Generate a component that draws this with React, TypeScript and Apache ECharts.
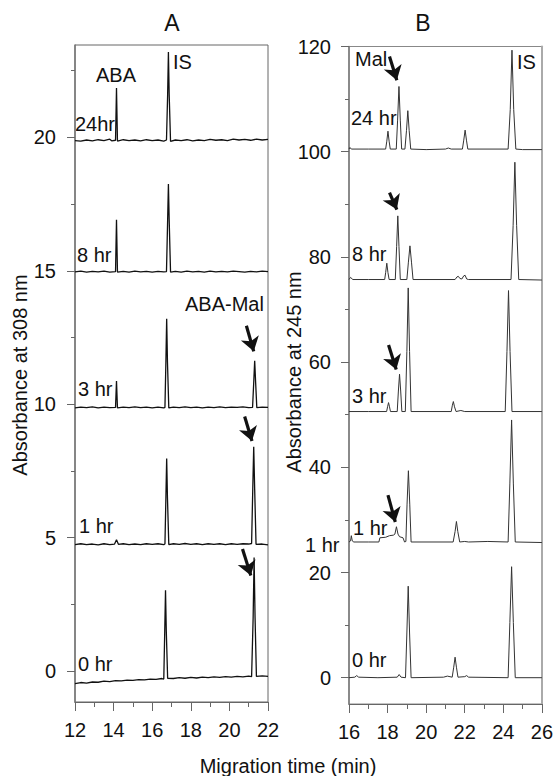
import React, { useEffect, useRef } from "react";
import * as echarts from "echarts";

// ---------- Panel A (absorbance at 308 nm) ----------
const A_X_TICKS = [12, 14, 16, 18, 20, 22];
const A_Y_MAJOR = [0, 5, 10, 15, 20];
const A_Y_MINOR = [2.5, 7.5, 12.5, 17.5, 22.5];

const A_24HR = [[12.0,19.88],[12.3,19.86],[12.6,19.9],[12.9,19.87],[13.2,19.91],[13.5,19.88],[13.8,19.93],[13.9,19.87],[14.1,19.89],[14.15,21.85],[14.2,19.86],[14.5,19.91],[14.8,19.88],[15.1,19.9],[15.4,19.87],[15.7,19.91],[16.0,19.88],[16.3,19.9],[16.6,19.86],[16.74,19.9],[16.8,21.6],[16.84,23.2],[16.88,21.6],[16.95,19.85],[17.2,19.9],[17.5,19.88],[17.8,19.91],[18.1,19.87],[18.4,19.9],[18.7,19.88],[19.0,19.92],[19.3,19.89],[19.6,19.91],[19.9,19.88],[20.2,19.93],[20.5,19.9],[20.8,19.92],[21.1,19.89],[21.4,19.93],[21.7,19.9],[22.0,19.92]];
const A_8HR = [[12.0,14.96],[12.3,14.99],[12.6,14.95],[12.9,14.98],[13.2,14.96],[13.5,14.99],[13.8,14.95],[14.1,14.97],[14.15,16.91],[14.2,14.95],[14.5,14.98],[14.8,14.95],[15.1,14.99],[15.4,14.96],[15.7,14.98],[16.0,14.95],[16.3,14.98],[16.6,14.96],[16.74,14.97],[16.8,16.9],[16.84,18.25],[16.88,16.9],[16.95,14.95],[17.2,14.98],[17.5,14.95],[17.8,14.99],[18.1,14.96],[18.4,14.98],[18.7,14.95],[19.0,14.99],[19.3,14.96],[19.6,14.98],[19.9,14.96],[20.2,14.99],[20.5,14.97],[20.8,14.95],[21.1,14.98],[21.4,14.96],[21.7,14.99],[22.0,14.97]];
const A_3HR = [[12.0,9.86],[12.3,9.89],[12.6,9.87],[12.9,9.9],[13.2,9.86],[13.5,9.89],[13.8,9.87],[14.1,9.88],[14.15,10.87],[14.2,9.86],[14.5,9.89],[14.8,9.87],[15.1,9.9],[15.4,9.87],[15.7,9.89],[16.0,9.86],[16.3,9.89],[16.6,9.86],[16.66,9.88],[16.71,11.6],[16.75,13.2],[16.79,11.6],[16.86,9.86],[17.1,9.89],[17.4,9.87],[17.7,9.9],[18.0,9.87],[18.3,9.89],[18.6,9.86],[18.9,9.89],[19.2,9.87],[19.5,9.9],[19.8,9.87],[20.1,9.89],[20.4,9.88],[20.7,9.9],[21.0,9.87],[21.2,9.88],[21.26,10.8],[21.31,11.63],[21.36,10.8],[21.42,9.87],[21.7,9.89],[22.0,9.88]];
const A_1HR = [[12.0,4.74],[12.3,4.77],[12.6,4.74],[12.9,4.76],[13.2,4.73],[13.5,4.77],[13.8,4.74],[14.05,4.76],[14.15,4.92],[14.25,4.75],[14.5,4.77],[14.8,4.74],[15.1,4.76],[15.4,4.74],[15.7,4.77],[16.0,4.75],[16.3,4.77],[16.6,4.74],[16.66,4.76],[16.71,6.5],[16.75,7.96],[16.79,6.5],[16.86,4.74],[17.1,4.77],[17.4,4.75],[17.7,4.78],[18.0,4.75],[18.3,4.77],[18.6,4.74],[18.9,4.77],[19.2,4.75],[19.5,4.77],[19.8,4.74],[20.1,4.77],[20.4,4.75],[20.7,4.77],[21.0,4.76],[21.15,4.78],[21.21,6.8],[21.26,8.4],[21.31,6.8],[21.38,4.75],[21.7,4.76],[22.0,4.73]];
const A_0HR = [[12.0,-0.47],[12.3,-0.43],[12.6,-0.45],[12.9,-0.41],[13.2,-0.42],[13.5,-0.38],[13.8,-0.4],[14.1,-0.36],[14.4,-0.37],[14.7,-0.34],[15.0,-0.35],[15.3,-0.32],[15.6,-0.33],[15.9,-0.3],[16.2,-0.31],[16.5,-0.28],[16.6,-0.3],[16.65,1.5],[16.69,3.03],[16.73,1.5],[16.8,-0.27],[17.1,-0.28],[17.4,-0.25],[17.7,-0.27],[18.0,-0.24],[18.3,-0.26],[18.6,-0.23],[18.9,-0.25],[19.2,-0.22],[19.5,-0.24],[19.8,-0.21],[20.1,-0.23],[20.4,-0.2],[20.7,-0.22],[21.0,-0.19],[21.15,-0.21],[21.23,2.0],[21.28,4.25],[21.33,2.0],[21.4,-0.2],[21.7,-0.18],[22.0,-0.2]];
const A_TRACES = [A_24HR, A_8HR, A_3HR, A_1HR, A_0HR];
// arrows: [xStart, yStart, xTip, yTip]
const A_ARROWS = [[20.88,12.94,21.26,11.98],[20.79,9.54,21.17,8.62],[20.68,4.57,21.11,3.58]];

// ---------- Panel B (absorbance at 245 nm) ----------
const B_X_TICKS = [16, 18, 20, 22, 24, 26];
const B_Y_MAJOR = [0, 20, 40, 60, 80, 100, 120];
const B_Y_MINOR = [10, 30, 50, 70, 90, 110];

const B_24HR = [[16.0,100.5],[16.05,100.8],[16.12,100.5],[17.0,100.5],[17.9,100.5],[17.96,102.0],[18.02,103.9],[18.08,102.0],[18.14,100.5],[18.45,100.5],[18.52,106.0],[18.59,112.4],[18.66,106.0],[18.73,100.5],[18.9,100.5],[18.98,104.0],[19.05,107.8],[19.12,104.0],[19.2,100.5],[20.0,100.4],[21.0,100.5],[21.15,100.7],[21.3,100.5],[21.88,100.5],[21.95,102.2],[22.02,104.1],[22.09,102.2],[22.16,100.5],[23.0,100.5],[24.25,100.5],[24.36,108.0],[24.45,119.3],[24.54,108.0],[24.65,100.5],[25.0,100.4],[26.0,100.4]];
const B_8HR = [[16.0,75.7],[16.08,76.1],[16.2,75.7],[17.0,75.7],[17.85,75.7],[17.9,77.0],[17.96,78.8],[18.02,77.0],[18.08,75.7],[18.4,75.7],[18.47,82.0],[18.53,87.8],[18.59,82.0],[18.66,75.7],[19.0,75.7],[19.08,79.0],[19.16,82.1],[19.24,79.0],[19.32,75.7],[21.5,75.7],[21.6,76.2],[21.67,76.3],[21.75,75.9],[21.85,75.8],[21.95,76.4],[22.02,76.5],[22.1,75.8],[22.2,75.7],[24.4,75.7],[24.51,86.0],[24.6,98.0],[24.69,86.0],[24.8,75.7],[26.0,75.6]];
const B_3HR = [[16.0,50.6],[17.0,50.6],[17.95,50.6],[18.0,51.5],[18.05,52.3],[18.1,51.5],[18.15,50.6],[18.5,50.6],[18.56,54.5],[18.62,57.7],[18.68,54.5],[18.74,50.6],[18.92,50.6],[19.0,62.0],[19.07,74.1],[19.14,62.0],[19.22,50.6],[21.3,50.6],[21.36,51.8],[21.41,52.5],[21.47,51.5],[21.55,50.6],[21.8,50.8],[22.0,50.6],[24.1,50.6],[24.19,62.0],[24.27,73.6],[24.35,62.0],[24.45,50.6],[26.0,50.6]];
const B_1HR = [[16.0,25.8],[16.08,26.0],[16.12,27.0],[16.17,26.0],[16.25,25.8],[17.0,25.8],[17.55,25.8],[17.6,26.6],[17.9,26.7],[18.1,27.0],[18.3,27.1],[18.38,27.3],[18.46,28.7],[18.54,27.3],[18.62,26.8],[18.8,26.6],[18.88,25.8],[18.95,25.9],[19.01,33.0],[19.08,39.35],[19.15,33.0],[19.22,25.8],[21.4,25.8],[21.5,27.8],[21.57,29.7],[21.64,27.8],[21.74,25.8],[22.0,25.9],[22.2,25.8],[23.2,25.9],[24.25,25.8],[24.34,37.0],[24.43,49.0],[24.52,37.0],[24.62,25.8],[26.0,25.7]];
const B_0HR = [[16.0,0],[16.3,0.1],[16.4,0.4],[16.5,0.1],[17.5,0],[18.5,0.1],[18.6,0.6],[18.7,0.1],[18.93,0],[19.0,8.5],[19.07,17.4],[19.14,8.5],[19.22,0],[20.9,0.1],[21.1,0.3],[21.35,0.1],[21.43,2.0],[21.5,3.9],[21.57,2.0],[21.65,0.1],[22.0,0.2],[22.1,0.4],[22.2,0.1],[24.25,0],[24.34,10.5],[24.43,21.1],[24.52,10.5],[24.62,0],[26.0,0]];
const B_TRACES = [B_24HR, B_8HR, B_3HR, B_1HR, B_0HR];
const B_ARROWS = [[18.1,118.1,18.48,113.6],[18.1,92.2,18.48,89.0],[18.05,63.25,18.45,58.6],[18.02,34.7,18.4,29.6]];

const FONT = "'Liberation Sans', Arial, sans-serif";

function txt(text: string, x: number, y: number, size = 20, align = "left", rotation = 0) {
  return {
    type: "text",
    x,
    y,
    rotation,
    silent: true,
    style: {
      text,
      fill: "#111",
      font: `${size}px ${FONT}`,
      textAlign: align,
      textVerticalAlign: "middle",
      verticalAlign: "middle",
    },
  };
}

export default function App() {
  const ref = useRef<HTMLDivElement>(null);
  useEffect(() => {
    if (!ref.current) return;
    const chart = echarts.init(ref.current, undefined, { renderer: "svg" });
    const axisColor = "#666";
    const labelStyle = { fontSize: 20, color: "#111", fontFamily: FONT };
    const xAxisBase = (gridIndex: number, min: number, max: number, ticks: number[]) => ({
      gridIndex,
      type: "value",
      min,
      max,
      interval: 2,
      axisLine: { onZero: false, lineStyle: { color: axisColor, width: 1.2 } },
      axisTick: { length: 9, lineStyle: { color: axisColor } },
      minorTick: { show: true, splitNumber: 2, length: 5, lineStyle: { color: axisColor } },
      axisLabel: { ...labelStyle, margin: 18, customValues: ticks },
      splitLine: { show: false },
    });
    const yMajor = (gridIndex: number, min: number, max: number, vals: number[], margin: number) => ({
      gridIndex,
      type: "value",
      min,
      max,
      axisLine: { show: true, onZero: false, lineStyle: { color: "#777", width: 1.5 } },
      axisTick: { show: true, length: 8, customValues: vals, lineStyle: { color: axisColor } },
      axisLabel: { ...labelStyle, margin, customValues: vals },
      splitLine: { show: false },
    });
    const yMinor = (gridIndex: number, min: number, max: number, vals: number[]) => ({
      gridIndex,
      type: "value",
      min,
      max,
      position: "left",
      axisLine: { show: false, onZero: false },
      axisTick: { show: true, length: 4, customValues: vals, lineStyle: { color: axisColor } },
      axisLabel: { show: false, customValues: vals },
      splitLine: { show: false },
    });
    const arrowMark = (arrows: number[][]) => ({
      silent: true,
      symbol: ["none", "arrow"],
      symbolSize: 14,
      label: { show: false },
      emphasis: { disabled: true },
      lineStyle: { color: "#111", width: 3.2, type: "solid" },
      data: arrows.map((a) => [{ coord: [a[0], a[1]] }, { coord: [a[2], a[3]] }]),
    });

    const series: any[] = [];
    A_TRACES.forEach((d, i) => {
      series.push({
        type: "line",
        xAxisIndex: 0,
        yAxisIndex: 0,
        data: d,
        showSymbol: false,
        silent: true,
        lineStyle: { color: "#111", width: 1.3 },
        ...(i === 0 ? { markLine: arrowMark(A_ARROWS) } : {}),
      });
    });
    B_TRACES.forEach((d, i) => {
      series.push({
        type: "line",
        xAxisIndex: 1,
        yAxisIndex: 2,
        data: d,
        showSymbol: false,
        silent: true,
        lineStyle: { color: "#333", width: 1 },
        ...(i === 0 ? { markLine: arrowMark(B_ARROWS) } : {}),
      });
    });

    chart.setOption({
      animation: false,
      backgroundColor: "#fff",
      grid: [
        { left: 75, top: 45, width: 193, height: 657, show: true, borderColor: "#666", borderWidth: 1 },
        { left: 349, top: 46.5, width: 193.5, height: 657.5, show: true, borderColor: "#888", borderWidth: 1 },
      ],
      xAxis: [xAxisBase(0, 12, 22, A_X_TICKS), xAxisBase(1, 16, 26, B_X_TICKS)],
      yAxis: [
        yMajor(0, -1.16, 23.46, A_Y_MAJOR, 19),
        yMinor(0, -1.16, 23.46, A_Y_MINOR),
        yMajor(1, -5, 120, B_Y_MAJOR, 18),
        yMinor(1, -5, 120, B_Y_MINOR),
        {
          gridIndex: 1,
          type: "value",
          min: -5,
          max: 120,
          position: "right",
          axisLine: { show: true, onZero: false, lineStyle: { color: "#aaa", width: 2 } },
          axisTick: { show: false },
          axisLabel: { show: false },
          splitLine: { show: false },
        },
      ],
      series,
      graphic: [
        txt("A", 172, 23, 23, "center"),
        txt("B", 423, 23, 23, "center"),
        txt("ABA", 96, 75),
        txt("IS", 173, 62),
        txt("24hr", 75, 124),
        txt("8 hr", 77, 255),
        txt("ABA-Mal", 185, 304),
        txt("3 hr", 78, 389),
        txt("1 hr", 79, 526),
        txt("0 hr", 78, 664),
        txt("Mal", 355, 59),
        txt("IS", 517, 62),
        txt("24 hr", 351, 118),
        txt("8 hr", 352, 254),
        txt("3 hr", 352, 396),
        txt("1 hr", 353, 528),
        txt("1 hr", 305, 545),
        txt("0 hr", 352, 660),
        txt("Absorbance at 308 nm", 20, 375, 20, "center", Math.PI / 2),
        txt("Absorbance at 245 nm", 294, 372, 20, "center", Math.PI / 2),
        txt("Migration time (min)", 288, 766, 20, "center"),
      ],
    });
    return () => chart.dispose();
  }, []);
  return (
    <div
      ref={ref}
      style={{ position: "fixed", left: 0, top: 0, width: 556, height: 776, background: "#fff" }}
    />
  );
}
